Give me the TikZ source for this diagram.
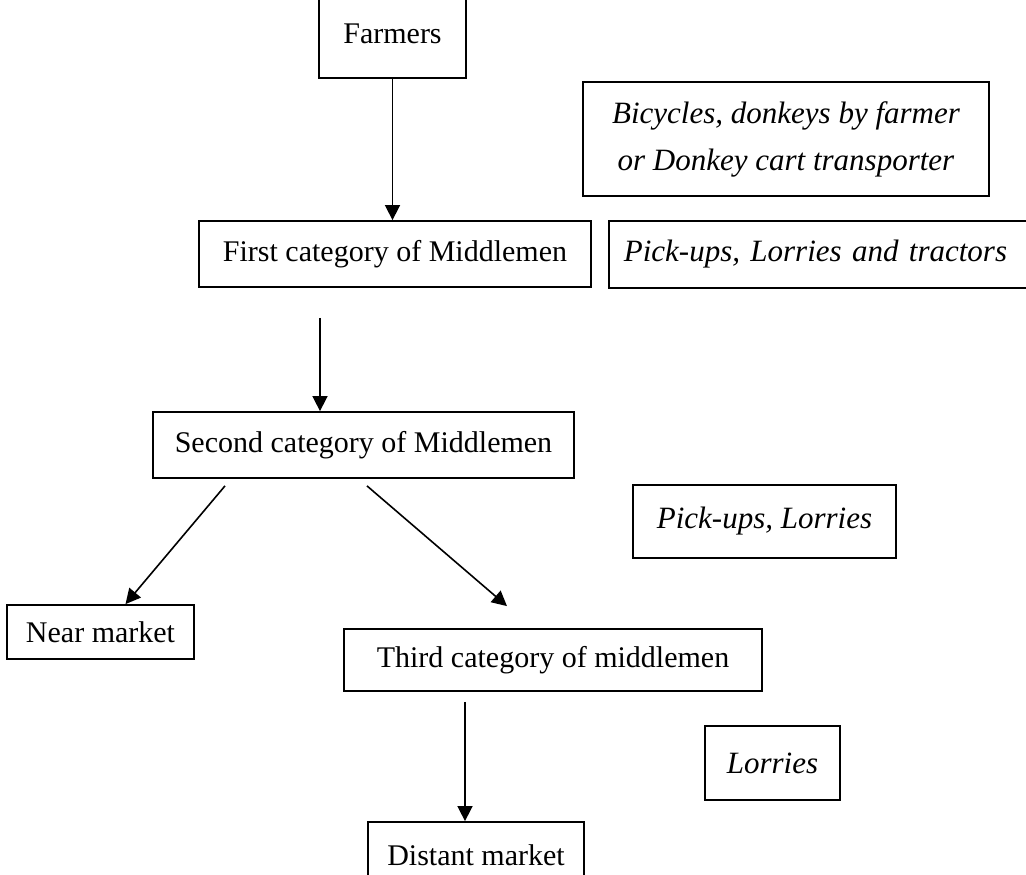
\documentclass[tikz,border=0pt]{standalone}
\usepackage{fontspec}
\setmainfont{Liberation Serif}
\usetikzlibrary{arrows.meta}
\begin{document}
\begin{tikzpicture}[x=1pt,y=-1pt,
  box/.style={draw=black,line width=1.8pt,inner sep=0pt,
    font=\fontsize{30}{36}\selectfont},
  ibox/.style={box,font=\fontsize{31}{47}\selectfont\itshape},
  arr/.style={line width=1.6pt,-{Triangle[width=15pt,length=15pt]}}]
\useasboundingbox (0,0) rectangle (1026,875);
\clip (0,0) rectangle (1026,875);
\fill[white] (0,0) rectangle (1026,875);

% chain of traders
\node[box,minimum width=147pt,minimum height=88pt] (farm) at (392.5,34) {Farmers};
\node[box,minimum width=392pt,minimum height=66pt] (first) at (395,254) {First category of Middlemen};
\node[box,minimum width=421pt,minimum height=66pt] (second) at (363.5,445) {Second category of Middlemen};
\node[box,minimum width=187pt,minimum height=54pt] (near) at (100.5,632) {Near market};
\node[box,minimum width=418pt,minimum height=62pt] (third) at (553,660) {Third category of middlemen};
\node[box,minimum width=216pt,minimum height=66pt] (distant) at (476,855) {Distant market};

% means of transport
\node[ibox,minimum width=406pt,minimum height=114pt,align=center] (bike) at (786,139)
  {Bicycles, donkeys by farmer\\or Donkey cart transporter};
\node[ibox,anchor=west,text width=412pt,inner xsep=15pt,minimum height=67pt,align=left] (tract) at (608,254.5)
  {Pick-ups, Lorries and tractors};
\node[ibox,minimum width=263pt,minimum height=73pt] (pick) at (764.5,521.5) {Pick-ups, Lorries};
\node[ibox,minimum width=135pt,minimum height=74pt] (lorry) at (772.5,763) {Lorries};

% flows
\draw[arr] (farm) -- (farm.south |- first.north);
\draw[arr] ([xshift=-75pt,yshift=-30pt]first.south) -- ([xshift=-75pt]first.south |- second.north);
\draw[arr] ([xshift=-138.5pt,yshift=-7pt]second.south) -- ([xshift=25pt]near.north);
\draw[arr] ([xshift=3.5pt,yshift=-7pt]second.south) -- ([xshift=-46pt,yshift=22pt]third.north);
\draw[arr] ([xshift=-88pt,yshift=-10pt]third.south) -- ([xshift=-11pt]distant.north);
\end{tikzpicture}
\end{document}
